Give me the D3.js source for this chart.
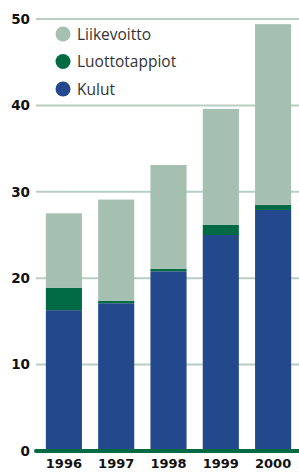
<!DOCTYPE html>
<html>
<head>
<meta charset="utf-8">
<script src="https://cdn.jsdelivr.net/npm/d3@7"></script>
<style>
  body { margin: 0; background: #fff; }
</style>
</head>
<body>
<div id="chart"></div>
<script>
// data
var years = ["1996", "1997", "1998", "1999", "2000"];
var kulut = [16.3, 17.1, 20.8, 25.0, 27.9];
var luottotappiot = [2.6, 0.3, 0.3, 1.2, 0.6];
var liikevoitto = [8.6, 11.7, 12.0, 13.4, 20.9];
var yTicks = [0, 10, 20, 30, 40, 50];

var seriesNames = ["Kulut", "Luottotappiot", "Liikevoitto"];
var colors = { "Kulut": "#23488c", "Luottotappiot": "#006a45", "Liikevoitto": "#a5bfb0" };

var width = 299, height = 472;

var svg = d3.select("#chart").append("svg")
    .attr("width", width)
    .attr("height", height);

var x = d3.scaleBand()
    .domain(years)
    .range([38, 299])
    .paddingInner(0.31)
    .paddingOuter(0.15);

var y = d3.scaleLinear()
    .domain([0, 50])
    .range([451, 19]);

// table for the stack
var table = years.map(function(yr, i) {
    return { year: yr, Kulut: kulut[i], Luottotappiot: luottotappiot[i], Liikevoitto: liikevoitto[i] };
});
var stacked = d3.stack().keys(seriesNames)(table);

// gridlines
svg.append("g").selectAll("line")
    .data(yTicks.filter(function(d) { return d > 0; }))
    .enter().append("line")
    .attr("x1", 36).attr("x2", width)
    .attr("y1", function(d) { return y(d); })
    .attr("y2", function(d) { return y(d); })
    .attr("stroke", "#b9cdc2")
    .attr("stroke-width", 2);

// bars
svg.append("g").selectAll("g")
    .data(stacked)
    .enter().append("g")
    .attr("fill", function(d) { return colors[d.key]; })
    .selectAll("rect")
    .data(function(d) { return d; })
    .enter().append("rect")
    .attr("x", function(d) { return x(d.data.year); })
    .attr("width", x.bandwidth())
    .attr("y", function(d) { return y(d[1]); })
    .attr("height", function(d) { return y(d[0]) - y(d[1]); });

// zero line
svg.append("line")
    .attr("x1", 36).attr("x2", width)
    .attr("y1", y(0)).attr("y2", y(0))
    .attr("stroke", "#006a45")
    .attr("stroke-width", 4)
    .attr("stroke-linecap", "round");

// y tick labels
svg.append("g").selectAll("text")
    .data(yTicks)
    .enter().append("text")
    .attr("x", 30)
    .attr("y", function(d) { return y(d); })
    .attr("dy", "0.36em")
    .attr("text-anchor", "end")
    .style("font-family", "'DejaVu Sans'")
    .style("font-weight", "bold")
    .style("font-size", "13.5px")
    .style("fill", "#111")
    .text(function(d) { return d; });

// x labels (kept just inside the bottom edge)
svg.append("g").selectAll("text")
    .data(years)
    .enter().append("text")
    .attr("x", function(d) { return x(d) + x.bandwidth() / 2; })
    .attr("y", 468)
    .attr("text-anchor", "middle")
    .style("font-family", "'DejaVu Sans'")
    .style("font-weight", "bold")
    .style("font-size", "13px")
    .style("fill", "#111")
    .text(function(d) { return d; });

// legend
var legendNames = ["Liikevoitto", "Luottotappiot", "Kulut"];
var legend = svg.append("g").selectAll("g")
    .data(legendNames)
    .enter().append("g")
    .attr("transform", function(d, i) { return "translate(63," + (34 + i * 27.5) + ")"; });

legend.append("circle")
    .attr("r", 7.5)
    .attr("fill", function(d) { return colors[d]; });

legend.append("text")
    .attr("x", 14)
    .attr("dy", "0.36em")
    .style("font-family", "'Open Sans'")
    .style("font-size", "15.5px")
    .style("fill", "#333")
    .text(function(d) { return d; });
</script>
</body>
</html>
